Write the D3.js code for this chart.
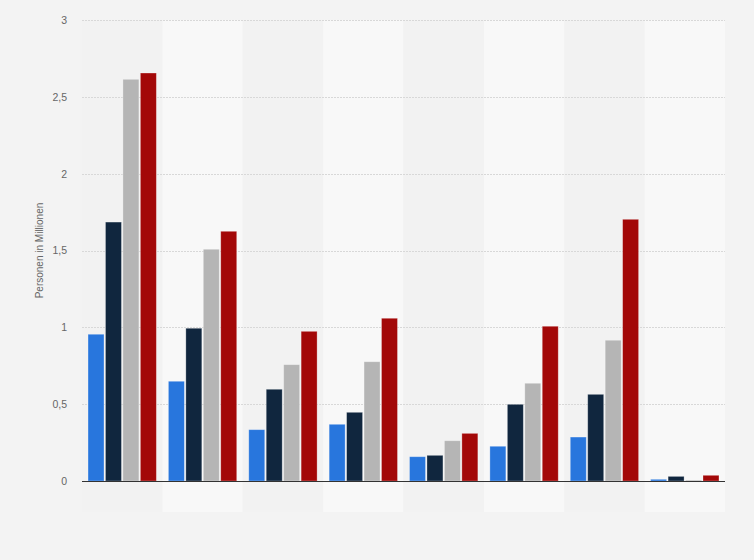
<!DOCTYPE html>
<html>
<head>
<meta charset="utf-8">
<script src="https://cdn.jsdelivr.net/npm/d3@7"></script>
<style>
html,body{margin:0;padding:0;background:#f3f3f3;}
svg{display:block;font-family:"Liberation Sans",Arial,sans-serif;}
</style>
</head>
<body>
<svg id="chart" width="754" height="560"></svg>
<script>
const categories = ["G1","G2","G3","G4","G5","G6","G7","G8"];
const seriesNames = ["S1","S2","S3","S4"];
const seriesColors = ["#2876dd","#10263e","#b5b5b5","#a30808"];
const s1 = [0.955, 0.649, 0.334, 0.369, 0.158, 0.226, 0.286, 0.011];
const s2 = [1.685, 0.994, 0.597, 0.447, 0.167, 0.499, 0.564, 0.030];
const s3 = [2.614, 1.508, 0.757, 0.776, 0.262, 0.636, 0.916, 0.006];
const s4 = [2.655, 1.625, 0.974, 1.059, 0.310, 1.007, 1.703, 0.037];
const yTicks = [0, 0.5, 1, 1.5, 2, 2.5, 3];
const yLabel = "Personen in Millionen";

const seriesValues = [s1, s2, s3, s4];
const svg = d3.select("#chart");
const m = {left: 82, right: 29, top: 20, bottom: 79};
const W = 754, H = 560;

const x0 = d3.scaleBand().domain(categories).range([m.left, W - m.right]).paddingInner(0.15).paddingOuter(0.075);
const x1 = d3.scaleBand().domain(seriesNames).range([0, x0.bandwidth()]).paddingInner(0.085);
const y = d3.scaleLinear().domain([0, 3]).range([H - m.bottom, m.top]);

// alternating bands
const step = x0.step();
svg.append("g").selectAll("rect").data(categories).join("rect")
  .attr("x", (d, i) => m.left + i * step)
  .attr("y", m.top)
  .attr("width", step)
  .attr("height", H - m.bottom - m.top + 31)
  .attr("fill", (d, i) => i % 2 === 0 ? "#f2f2f2" : "#f8f8f8");

// gridlines
const fmt = d => String(d).replace(".", ",");
svg.append("g").selectAll("line").data(yTicks.filter(t => t > 0)).join("line")
  .attr("x1", m.left).attr("x2", W - m.right)
  .attr("y1", d => Math.round(y(d)) + 0.5).attr("y2", d => Math.round(y(d)) + 0.5)
  .attr("stroke", "#d8d8d8").attr("stroke-dasharray", "2,1");

// y axis labels via d3 axis
const yAxis = d3.axisLeft(y).tickValues(yTicks).tickFormat(fmt).tickSize(0).tickPadding(15);
const ga = svg.append("g").attr("transform", `translate(${m.left},0)`).call(yAxis);
ga.select(".domain").remove();
ga.selectAll("text").attr("fill", "#666").attr("font-size", "10.5px")
  .attr("font-family", "\"Liberation Sans\",Arial,sans-serif");

// bars
const gGroups = svg.append("g").selectAll("g").data(categories).join("g")
  .attr("transform", d => `translate(${x0(d)},0)`);
gGroups.selectAll("rect").data((d, i) => seriesNames.map((s, j) => ({s, v: seriesValues[j][i], c: seriesColors[j]})))
  .join("rect")
  .attr("x", d => x1(d.s))
  .attr("y", d => y(d.v))
  .attr("width", x1.bandwidth())
  .attr("height", d => y(0) - y(d.v))
  .attr("fill", d => d.c)
  .attr("stroke", "rgba(255,255,255,0.35)")
  .attr("stroke-width", 0.8);

// baseline
svg.append("line").attr("x1", m.left).attr("x2", W - m.right)
  .attr("y1", y(0) + 0.5).attr("y2", y(0) + 0.5)
  .attr("stroke", "#333").attr("stroke-width", 1.2);

// y label
svg.append("text")
  .attr("transform", `translate(43,${(y(0) + y(3)) / 2}) rotate(-90)`)
  .attr("text-anchor", "middle")
  .attr("fill", "#666").attr("font-size", "10px")
  .text(yLabel);
</script>
</body>
</html>
